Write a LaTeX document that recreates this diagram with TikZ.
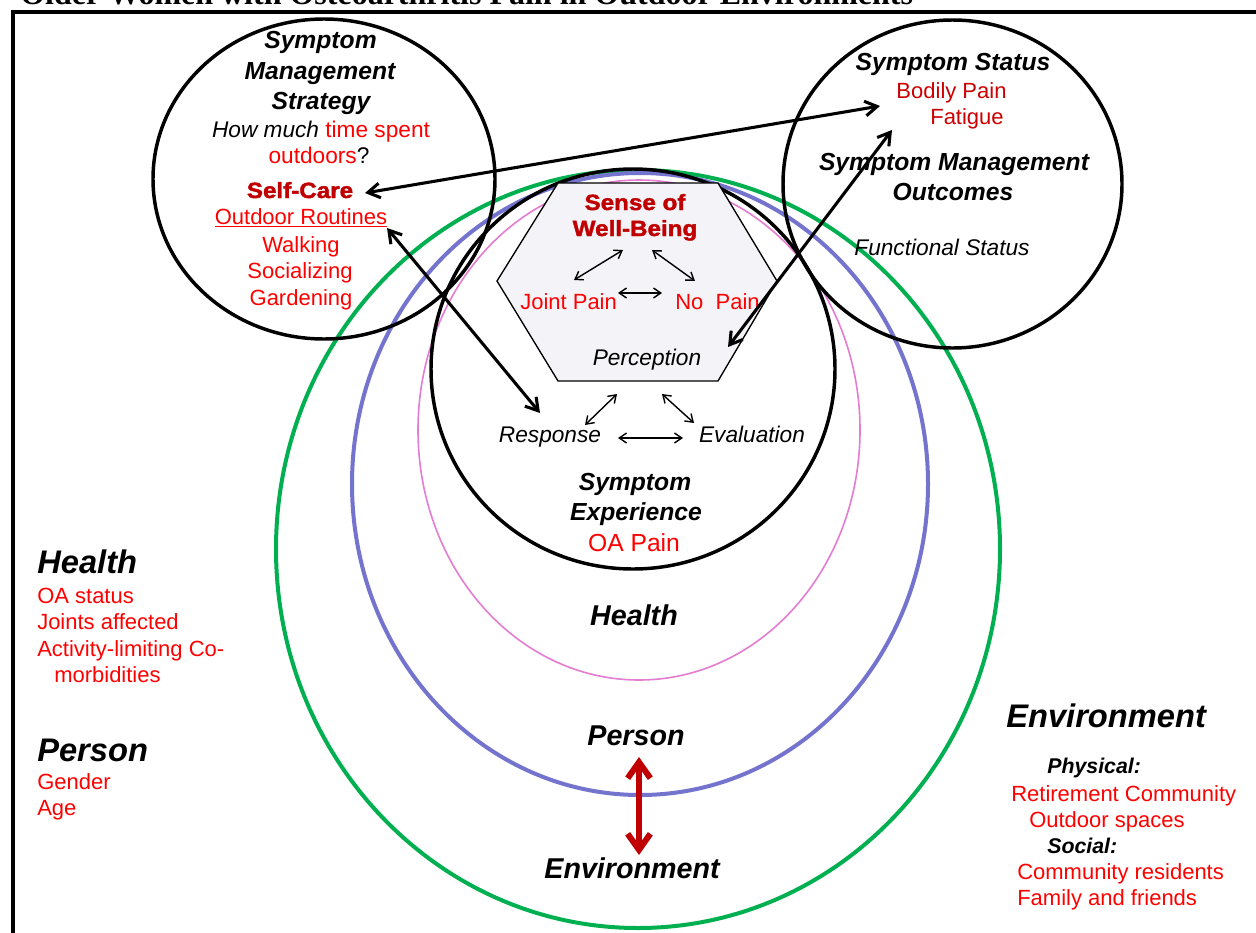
\documentclass[tikz,border=0pt]{standalone}
\usepackage{fontspec}
\setmainfont{Liberation Sans}
\newfontfamily\titlefont{Liberation Serif}
\newfontfamily\blackfont[FakeStretch=1.1,BoldFeatures={FakeBold=1.8}]{Liberation Sans}
\usetikzlibrary{arrows.meta}
\definecolor{pr}{HTML}{FF0000}
\definecolor{dr}{HTML}{C00000}
\definecolor{br}{HTML}{CC0000}
\definecolor{eg}{HTML}{00B050}
\definecolor{eb}{HTML}{7474CF}
\definecolor{ep}{HTML}{E47CD2}
\definecolor{hexfill}{HTML}{F3F3F8}
\tikzset{
  txt/.style={inner sep=0pt, anchor=base},
  txtl/.style={inner sep=0pt, anchor=base west},
  bi/.style={font=\fontsize{18.5}{22}\selectfont\bfseries\itshape},
  it/.style={font=\fontsize{17}{20}\selectfont\itshape},
  rd/.style={font=\fontsize{16.5}{20}\selectfont, text=pr},
  blk/.style={font=\fontsize{16.5}{20}\selectfont\blackfont\bfseries, text=dr},
  bigbi/.style={font=\fontsize{24.5}{28}\selectfont\bfseries\itshape},
  midbi/.style={font=\fontsize{21.5}{25}\selectfont\bfseries\itshape},
  thick arrow/.style={line width=2.3pt, {Straight Barb[length=9pt,width=11pt]}-{Straight Barb[length=9pt,width=11pt]}},
  thin arrow/.style={line width=1.05pt, {Straight Barb[length=5.5pt,width=7.5pt]}-{Straight Barb[length=5.5pt,width=7.5pt]}},
  red arrow/.style={line width=4.5pt, draw=dr, {Straight Barb[length=12pt,width=17pt]}-{Straight Barb[length=12pt,width=17pt]}},
  bigcirc/.style={line width=2.6pt, draw=black},
}
\begin{document}
\begin{tikzpicture}[x=0.75pt,y=-0.75pt]
\useasboundingbox (0,0) rectangle (1256,932);
\clip (0,0) rectangle (1256,932);
\fill[white] (0,0) rectangle (1256,932);
% title (cut off at the top edge, as in the reference)
\node[txtl, font=\fontsize{24}{28}\selectfont\titlefont\bfseries] (title) at (20,4) {Older Women with Osteoarthritis Pain in Outdoor Environments};
% frame
\draw[line width=3pt] (12.5,1100) -- (12.5,11.5) -- (1400,11.5);
% nested ellipses
\draw[eg, line width=3pt] (638,549) ellipse [x radius=362, y radius=379];
\draw[eb, line width=3pt] (640,484) ellipse [x radius=288, y radius=311];
\draw[ep, line width=1.2pt] (639,430) ellipse [x radius=221, y radius=250];
% big black circles
\draw[bigcirc] (633,369) ellipse [x radius=202, y radius=200];
\draw[bigcirc] (324,179) ellipse [x radius=171, y radius=160];
\draw[bigcirc] (952.5,184) ellipse [x radius=169.5, y radius=164];
% hexagon
\draw[fill=hexfill, line width=1pt] (558,183) -- (718,183) -- (777,281) -- (718,381) -- (558,381) -- (497,281) -- cycle;

% left circle text
\node[txt,bi] (s1) at (320.5,48) {Symptom};
\node[txt,bi] (s2) at (320,79) {Management};
\node[txt,bi] (s3) at (321,109) {Strategy};
\node[txt,font=\fontsize{17}{20}\selectfont] (s4) at (321,137) {\itshape How much \upshape\textcolor{pr}{time spent}};
\node[txt,font=\fontsize{17}{20}\selectfont] (s5) at (319,163) {\textcolor{pr}{outdoors}?};
\node[txt,blk] (selfcare) at (300,198) {Self-Care};
\node[txt,rd] (routines) at (301,224) {\underline{Outdoor Routines}};
\node[txt,rd] (walk) at (301,252) {Walking};
\node[txt,rd] (soc) at (300,278) {Socializing};
\node[txt,rd] (gard) at (301,305) {Gardening};

% right circle text
\node[txt,bi] (st1) at (953,70) {Symptom Status};
\node[txt,rd,text=br] (bodily) at (951.5,98) {Bodily Pain};
\node[txt,rd,text=br] (fatigue) at (967,124) {Fatigue};
\node[txt,bi] (smo1) at (954,170) {Symptom Management};
\node[txt,bi] (smo2) at (953,200) {Outcomes};
\node[txt,it] (func) at (942,255) {Functional Status};

% hexagon text
\node[txt,blk] (sense1) at (635,210) {Sense of};
\node[txt,blk] (sense2) at (635,236) {Well-Being};
\node[txtl,rd] (joint) at (520,309) {Joint Pain};
\node[txtl,rd] (nopain) at (675,309) {No\ \ Pain};
\node[txt,it] (perc) at (647,365) {Perception};
\node[txt,it] (resp) at (550,442) {Response};
\node[txt,it] (eval) at (752,442) {Evaluation};

% symptom experience
\node[txt,bi] (se1) at (635,490) {Symptom};
\node[txt,bi] (se2) at (636,520) {Experience};
\node[txt,font=\fontsize{18.5}{22}\selectfont,text=pr] (oapain) at (634,551) {OA Pain};
\node[txt,midbi] (chealth) at (634,625) {Health};
\node[txt,midbi] (cperson) at (636,745) {Person};
\node[txt,midbi] (cenv) at (632,878) {Environment};

% left side
\node[txtl,bigbi] (lhealth) at (37,573) {Health};
\node[txtl,rd] (l1) at (37,603) {OA status};
\node[txtl,rd] (l2) at (37,629) {Joints affected};
\node[txtl,rd] (l3) at (37,656) {Activity-limiting Co-};
\node[txtl,rd] (l4) at (54,682) {morbidities};
\node[txtl,bigbi] (lperson) at (37,761) {Person};
\node[txtl,rd] (l5) at (37,789) {Gender};
\node[txtl,rd] (l6) at (37,815) {Age};

% right side
\node[txtl,bigbi] (renv) at (1006,727) {Environment};
\node[txtl,font=\fontsize{16}{19}\selectfont\bfseries\itshape] (phys) at (1047,773) {Physical:};
\node[txtl,rd] (r1) at (1011,801) {Retirement Community};
\node[txtl,rd] (r2) at (1029,827) {Outdoor spaces};
\node[txtl,font=\fontsize{16}{19}\selectfont\bfseries\itshape] (soci) at (1047,853) {Social:};
\node[txtl,rd] (r3) at (1017,879) {Community residents};
\node[txtl,rd] (r4) at (1017,905) {Family and friends};

% arrow end points
\coordinate (a1s) at (365,193);
\coordinate (a1e) at (880,106);
\coordinate (a2s) at (387,228);
\coordinate (a2e) at (540,413);
\coordinate (a3s) at (892,130);
\coordinate (a3e) at (728,347);
\coordinate (h1s) at (574,280);
\coordinate (h1e) at (623,250);
\coordinate (h2s) at (652,250);
\coordinate (h2e) at (695,281);
\coordinate (h3s) at (618,293);
\coordinate (h3e) at (662,293);
\coordinate (b1s) at (585,425);
\coordinate (b1e) at (617,394);
\coordinate (b2s) at (662,394);
\coordinate (b2e) at (694,423);
\coordinate (b3s) at (618,438);
\coordinate (b3e) at (683,438);
\coordinate (pe1) at (639,757);
\coordinate (pe2) at (639,855);

\draw[thick arrow] (a1s) -- (a1e);
\draw[thick arrow] (a2s) -- (a2e);
\draw[thick arrow] (a3s) -- (a3e);
\draw[thin arrow] (h1s) -- (h1e);
\draw[thin arrow] (h2s) -- (h2e);
\draw[thin arrow] (h3s) -- (h3e);
\draw[thin arrow] (b1s) -- (b1e);
\draw[thin arrow] (b2s) -- (b2e);
\draw[thin arrow] (b3s) -- (b3e);
\draw[red arrow] (pe1) -- (pe2);
\end{tikzpicture}
\end{document}
